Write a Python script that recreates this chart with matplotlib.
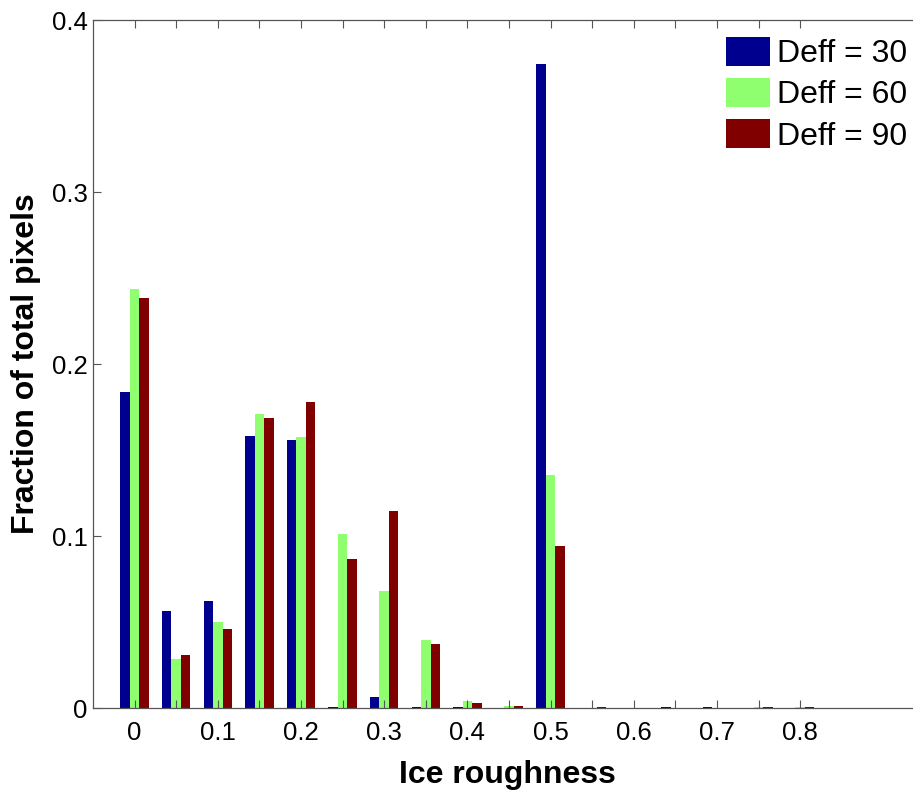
import numpy as np
import matplotlib
matplotlib.use("Agg")
import matplotlib.pyplot as plt

# Data
roughness = [0.0, 0.05, 0.1, 0.15, 0.2, 0.25, 0.3, 0.35, 0.4, 0.45,
             0.5, 0.55, 0.6, 0.65, 0.7, 0.75, 0.8]
deff30 = [0.1837, 0.0565, 0.0625, 0.1582, 0.1557, 0.0005, 0.0066, 0.0004, 0.0005, 0.0,
          0.3743, 0.0, 0.0, 0.0004, 0.0004, 0.0, 0.0]
deff60 = [0.2437, 0.0284, 0.0499, 0.1707, 0.1577, 0.1012, 0.0678, 0.0394, 0.0038, 0.0012,
          0.1353, 0.0, 0.0, 0.0, 0.0, 0.0003, 0.0003]
deff90 = [0.2384, 0.0311, 0.0462, 0.1687, 0.1779, 0.0866, 0.1144, 0.0375, 0.0027, 0.0010,
          0.0942, 0.0005, 0.0, 0.0, 0.0, 0.0006, 0.0005]
series_labels = ["Deff = 30", "Deff = 60", "Deff = 90"]
xtick_labels = ["0", "0.1", "0.2", "0.3", "0.4", "0.5", "0.6", "0.7", "0.8"]
ytick_values = [0, 0.1, 0.2, 0.3, 0.4]

colors = ["#00008F", "#8FFF70", "#800000"]

plt.rcParams['font.family'] = ['Liberation Sans', 'DejaVu Sans']

fig = plt.figure(figsize=(9.13, 7.9), dpi=100)
ax = fig.add_axes([93/913, 82/790, 832/913, 688/790])

x = np.array(roughness)
w = 0.0114
for i, (vals, c, lab) in enumerate(zip([deff30, deff60, deff90], colors, series_labels)):
    ax.bar(x + (i - 1) * w, vals, width=w, color=c, label=lab, linewidth=0)

ax.set_xlim(-0.05, 0.95)
ax.set_ylim(0, 0.4)

ax.set_xticks(x)
ax.set_xticklabels([xtick_labels[i // 2] if i % 2 == 0 else "" for i in range(len(x))])
ax.set_yticks(ytick_values)
ax.set_yticklabels(["0", "0.1", "0.2", "0.3", "0.4"])

ax.tick_params(axis='x', direction='in', top=True, length=6, width=0.8, color='#555555',
               labelsize=18.5, pad=9)
ax.tick_params(axis='y', direction='in', right=True, length=6, width=0.8, color='#555555',
               labelsize=18.5, pad=4)
for s in ax.spines.values():
    s.set_color('#555555')
    s.set_linewidth(0.9)

ax.set_xlabel("Ice roughness", fontsize=23, fontweight='bold')
ax.set_ylabel("Fraction of total pixels", fontsize=23, fontweight='bold')
ax.xaxis.set_label_coords(0.4976, -0.075)
ax.yaxis.set_label_coords(-0.062, 0.5)

fig.legend(loc='upper right', bbox_to_anchor=(907/913, 1 - 37/790), frameon=False,
           fontsize=23, handlelength=1.37, handleheight=1.0, handletextpad=0.22,
           labelspacing=0.28, borderpad=0, borderaxespad=0)

fig.savefig("out.png", dpi=100)
